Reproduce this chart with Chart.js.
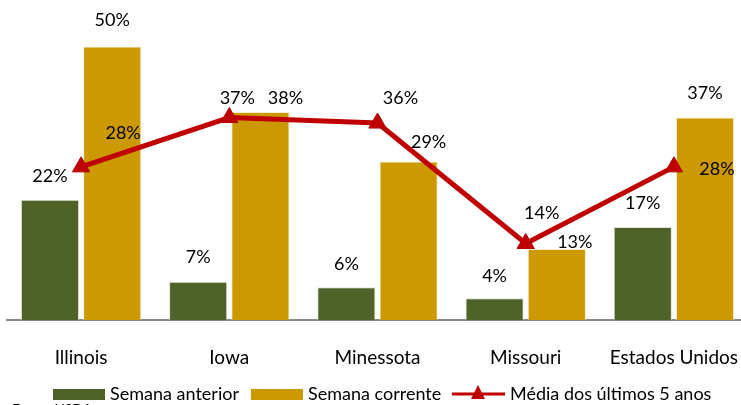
<!DOCTYPE html>
<html>
<head>
<meta charset="utf-8">
<script src="https://cdn.jsdelivr.net/npm/chart.js@4.4.1/dist/chart.umd.min.js"></script>
<style>
  body { margin: 0; background: #fff; }
  #wrap { width: 741px; height: 405px; overflow: hidden; position: relative; }
</style>
</head>
<body>
<div id="wrap"><canvas id="chart" width="748" height="405"></canvas></div>
<script>
const categories = ["Illinois", "Iowa", "Minessota", "Missouri", "Estados Unidos"];
const semanaAnterior = [22, 7, 6, 4, 17];
const semanaCorrente = [50, 38, 29, 13, 37];
const media5anos = [28, 37, 36, 14, 28];

// label offsets (dx, dy) from the top of each mark
const offAnterior = [[0, -24], [0, -25], [0, -23], [0, -22], [0, -24]];
const offCorrente = [[0, -26], [25, -14], [20, -19], [18, -7], [0, -24]];
const offMedia = [[42, -34], [8, -19], [23, -25], [16, -30], [43, 2]];

const FONT = "Lato, 'Open Sans', sans-serif";
const GREEN = "#4F6228";
const GOLD = "#CC9900";
const RED = "#C00000";

const labelsPlugin = {
  id: "valueLabels",
  afterDatasetsDraw(chart) {
    const ctx = chart.ctx;
    const offs = [offAnterior, offCorrente, offMedia];
    ctx.save();
    ctx.font = "18px " + FONT;
    ctx.fillStyle = "#000";
    ctx.textAlign = "center";
    ctx.textBaseline = "middle";
    chart.data.datasets.forEach((ds, i) => {
      const meta = chart.getDatasetMeta(i);
      meta.data.forEach((el, j) => {
        const o = offs[i][j];
        ctx.fillText(ds.data[j] + "%", el.x + o[0], el.y + o[1]);
      });
    });
    ctx.restore();
  }
};

const legendPlugin = {
  id: "customLegend",
  afterDraw(chart) {
    const ctx = chart.ctx;
    const y = 394;
    ctx.save();
    ctx.font = "18px " + FONT;
    ctx.textBaseline = "middle";
    ctx.textAlign = "left";

    ctx.fillStyle = GREEN;
    ctx.fillRect(53, 389, 52, 11);
    ctx.fillStyle = "#000";
    ctx.fillText("Semana anterior", 110, y);

    ctx.fillStyle = GOLD;
    ctx.fillRect(251, 389, 52, 11);
    ctx.fillStyle = "#000";
    ctx.fillText("Semana corrente", 308, y);

    ctx.strokeStyle = RED;
    ctx.lineWidth = 3;
    ctx.beginPath();
    ctx.moveTo(452, y);
    ctx.lineTo(505, y);
    ctx.stroke();
    ctx.fillStyle = RED;
    ctx.beginPath();
    ctx.moveTo(478, y - 9);
    ctx.lineTo(485, y + 5);
    ctx.lineTo(471, y + 5);
    ctx.closePath();
    ctx.fill();
    ctx.fillStyle = "#000";
    ctx.fillText("Média dos últimos 5 anos", 510, y);

    ctx.font = "14px " + FONT;
    ctx.textBaseline = "top";
    ctx.fillText("Fonte: USDA", 12, 402);
    ctx.restore();
  }
};

new Chart(document.getElementById("chart"), {
  data: {
    labels: categories,
    datasets: [
      {
        type: "bar",
        label: "Semana anterior",
        data: semanaAnterior,
        backgroundColor: GREEN,
        borderColor: "rgba(220,220,210,0.8)",
        borderWidth: 1,
        categoryPercentage: 0.84,
        barPercentage: 0.935,
        order: 1
      },
      {
        type: "bar",
        label: "Semana corrente",
        data: semanaCorrente,
        backgroundColor: GOLD,
        borderColor: "rgba(240,230,200,0.8)",
        borderWidth: 1,
        categoryPercentage: 0.84,
        barPercentage: 0.935,
        order: 1
      },
      {
        type: "line",
        label: "Média dos últimos 5 anos",
        data: media5anos,
        borderColor: RED,
        backgroundColor: RED,
        borderWidth: 5,
        pointStyle: "triangle",
        pointRadius: 10,
        pointBorderWidth: 1,
        pointBackgroundColor: RED,
        pointBorderColor: "#B00000",
        tension: 0,
        order: 0
      }
    ]
  },
  options: {
    responsive: false,
    animation: false,
    layout: { autoPadding: false, padding: { left: 7, right: 0, top: 19, bottom: 10 } },
    plugins: {
      legend: { display: false },
      tooltip: { enabled: false }
    },
    scales: {
      x: {
        offset: true,
        grid: { display: false, drawTicks: false },
        border: { display: true, color: "#888888", width: 2 },
        ticks: {
          color: "#000",
          font: { family: FONT, size: 19 },
          padding: 26,
          maxRotation: 0
        },
        afterFit(scale) {
          scale.paddingLeft = 0;
          scale.paddingRight = 0;
        }
      },
      y: {
        display: false,
        min: 0,
        max: 55
      }
    }
  },
  plugins: [labelsPlugin, legendPlugin]
});
</script>
</body>
</html>
